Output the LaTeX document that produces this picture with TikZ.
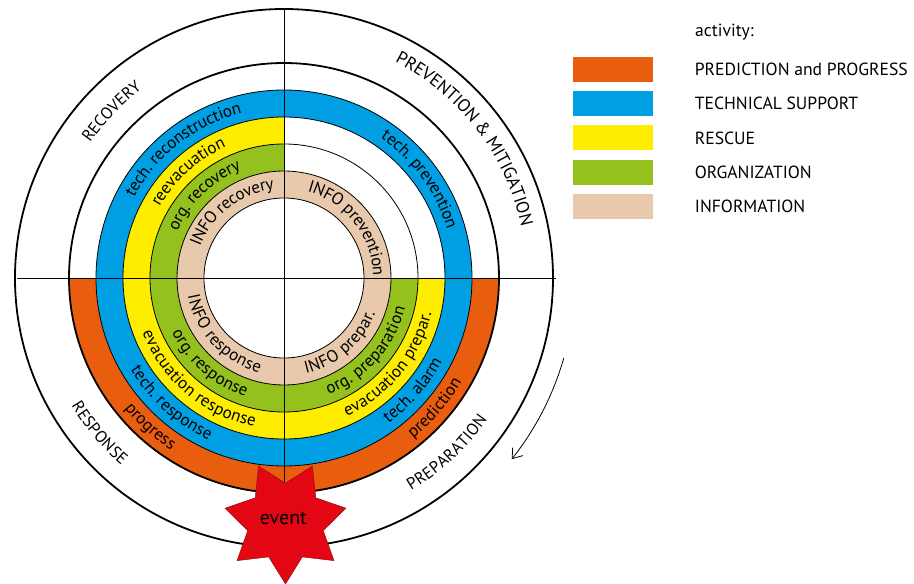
\documentclass[tikz,border=0pt]{standalone}
\usepackage{fontspec}
\setmainfont{PT Sans}
\usetikzlibrary{arrows.meta,positioning,shapes.geometric,decorations.text}

\definecolor{progorange}{HTML}{E95D0F}
\definecolor{techblue}{HTML}{009FE3}
\definecolor{rescueyellow}{HTML}{FFED00}
\definecolor{orggreen}{HTML}{95C11F}
\definecolor{infobeige}{HTML}{E8C9AB}
\definecolor{eventred}{HTML}{E30613}

\newcommand{\ringfont}{\fontsize{17}{20}\selectfont}
\newcommand{\phasefont}{\fontsize{16.5}{20}\selectfont}
\newcommand{\widephasefont}{\fontsize{17.8}{21}\selectfont}

\tikzset{
  thinring/.style={line width=0.8pt},
  phasering/.style={line width=1.8pt},
  axis/.style={line width=0.8pt},
  ringtext/.style={decorate, decoration={text along path, text={|\ringfont|#1},
      text align=center, raise=-4.2pt}},
  phasetext/.style={decorate, decoration={text along path, text={|\phasefont|#1},
      text align=center, raise=-5.8pt}},
  widephasetext/.style={decorate, decoration={text along path, text={|\widephasefont|#1},
      text align=center, raise=-6.2pt}},
  legbox/.style={minimum width=80pt, minimum height=25pt, inner sep=0pt},
  legtext/.style={inner sep=0pt, anchor=west, font=\fontsize{17.6}{20}\selectfont},
}

% text on a ring: radius, centre angle, text
\newcommand{\uparc}[4][ringtext]{\path[#1={#4}] (#3+70:#2) arc[start angle=#3+70, end angle=#3-70, radius=#2];}
\newcommand{\lowarc}[4][ringtext]{\path[#1={#4}] (#3-70:#2) arc[start angle=#3-70, end angle=#3+70, radius=#2];}

\begin{document}
\begin{tikzpicture}[x=1pt,y=1pt]
  \useasboundingbox (-284,-306) rectangle (630,278);

  % coloured ring sectors
  \foreach \sa/\ea/\ri/\col in {180/360/188/progorange, 0/360/161/techblue,
      90/360/134/rescueyellow, 90/360/107/orggreen, 0/360/80/infobeige}
    \fill[\col] (\sa:\ri) arc[start angle=\sa, end angle=\ea, radius=\ri]
      -- (\ea:\ri+27) arc[start angle=\ea, end angle=\sa, radius=\ri+27] -- cycle;

  % ring borders and axes
  \foreach \r in {80,107,134,161,188}
    \draw[thinring] (0,0) circle[radius=\r];
  \draw[axis] (-267,0) -- (272,0);
  \draw[axis] (0,269) -- (0,-215);
  \draw[phasering] (0,0) circle[radius=215];
  \draw[phasering] (0,0) circle[radius=269];

  % phases
  \uparc[phasetext]{242}{136}{RECOVERY}
  \uparc[widephasetext]{249}{37.5}{PREVENTION {\&} MITIGATION}
  \lowarc[phasetext]{242}{220}{RESPONSE}
  \lowarc[phasetext]{242}{313}{PREPARATION}

  % upper left
  \uparc{174.5}{128}{tech. reconstruction}
  \uparc{147.5}{132}{reevacuation}
  \uparc{120.5}{134}{org. recovery}
  \uparc{93.5}{128}{INFO recovery}
  % upper right
  \uparc{174.5}{36}{tech. prevention}
  \uparc{93.5}{38}{INFO prevention}
  % lower left
  \lowarc{201.5}{228}{progress}
  \lowarc{174.5}{228}{tech. response}
  \lowarc{147.5}{230}{evacuation response}
  \lowarc{120.5}{229}{org. response}
  \lowarc{93.5}{223}{INFO response}
  % lower right
  \lowarc{201.5}{319.3}{prediction}
  \lowarc{174.5}{319}{tech. alarm}
  \lowarc{147.5}{320.5}{evacuation prepar.}
  \lowarc{120.5}{318.5}{org. preparation}
  \lowarc{93.5}{311}{INFO prepar.}

  \node[star, star points=7, star point ratio=1.6, shape border rotate=180,
    minimum size=124pt, inner sep=0pt, fill=eventred, draw=eventred!60!black,
    line width=0.4pt] (event) at (1.5,-244) {};
  \node[font=\fontsize{20}{24}\selectfont, inner sep=0pt] (eventlabel) at ([xshift=-2pt,yshift=4pt]event.center) {event};

  \draw[line width=0.8pt, -{Straight Barb[length=9pt,width=13pt]}]
    (-16:291) arc[start angle=-16, end angle=-38.5, radius=291];

  % legend
  \node[legtext] (title) at (411,246) {activity:};
  \foreach \col/\lab [count=\i] in {progorange/PREDICTION and PROGRESS,
      techblue/TECHNICAL SUPPORT, rescueyellow/RESCUE,
      orggreen/ORGANIZATION, infobeige/INFORMATION} {
    \node[legbox, fill=\col] (box\i) at (328.5,242.7-34.2*\i) {};
    \node[legtext, right=42pt of box\i] (lab\i) {\lab};
  }
\end{tikzpicture}
\end{document}
